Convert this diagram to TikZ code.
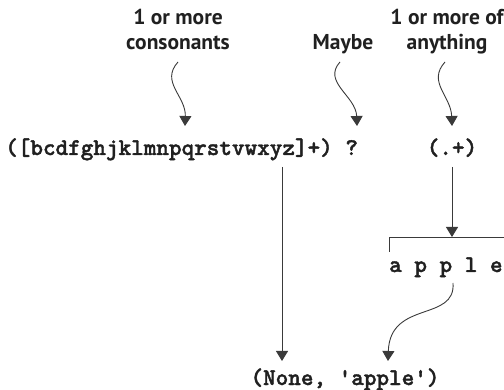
\documentclass[tikz,border=0pt]{standalone}
\usepackage{fontspec}
\setsansfont{PT Sans}
\newfontfamily\cmono[FakeBold=1.6]{lmmonolt10-bold.otf}
\usetikzlibrary{arrows.meta}
\definecolor{ln}{HTML}{3A3A3A}
\definecolor{tx}{HTML}{202020}
\tikzset{
  lbl/.style={font=\sffamily\bfseries\fontsize{21.5}{25}\selectfont, text=tx, align=center, inner sep=0pt},
  code/.style={font=\cmono\fontsize{24}{26}\selectfont, text=tx, inner sep=0pt, anchor=base west},
  arr/.style={draw=ln, line width=0.9pt, -{Triangle[width=12pt,length=10pt]}},
  ln/.style={draw=ln, line width=0.9pt}
}
\begin{document}
\begin{tikzpicture}[x=1pt,y=-1pt]
\useasboundingbox (0,0) rectangle (504,390);
% labels
\node[lbl, anchor=base] (l1) at (178,50) {1 or more\\consonants};
\node[lbl, anchor=base] (maybe) at (343,50) {Maybe};
\node[lbl, anchor=base] (l3) at (447,50) {1 or more of\\anything};
% code
\node[code] (regex) at (5,155) {([bcdfghjklmnpqrstvwxyz]+) ?};
\node[code, anchor=base] (grp) at (452,155) {(.+)};
\node[code] (apple) at (389,272) {a p p l e};
\node[code, anchor=base] (result) at (345,385) {(None, 'apple')};
% squiggly arrows
\coordinate (s1) at (178,62);
\coordinate (e1) at (185,126);
\coordinate (s2) at (340,62);
\coordinate (e2) at (357,126);
\coordinate (s3) at (445,62);
\coordinate (e3) at (452,126);
\draw[arr] (s1) .. controls (160,82) and (186,96) .. (e1);
\draw[arr] (s2) .. controls (322,82) and (356,96) .. (e2);
\draw[arr] (s3) .. controls (427,82) and (451,96) .. (e3);
% vertical arrow to result
\coordinate (v1) at (282,167);
\coordinate (v1e) at (282,361);
\draw[arr] (v1) -- (v1e);
% arrow to bracket
\coordinate (v2) at (452,167);
\coordinate (v2e) at (452,237);
\draw[arr] (v2) -- (v2e);
% bracket
\coordinate (b1) at (389,252);
\coordinate (b2) at (389,237);
\coordinate (b3) at (504,237);
\draw[ln] (b1) -- (b2) -- (b3);
% curved arrow from apple to result
\coordinate (c1) at (453,283);
\coordinate (c2) at (388,361);
\draw[arr] (c1) .. controls (456,322) and (390,300) .. (c2);
\end{tikzpicture}
\end{document}
